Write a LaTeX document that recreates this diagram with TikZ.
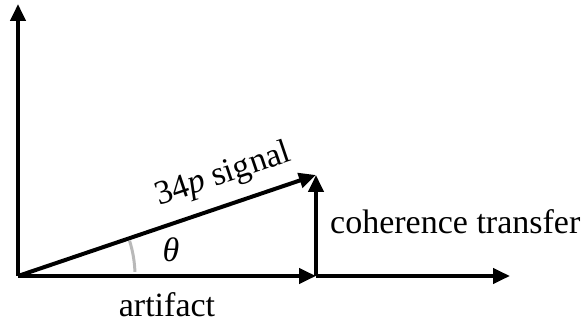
\documentclass[tikz,border=0pt]{standalone}
\usepackage{fontspec}
\setmainfont{Liberation Serif}
\usetikzlibrary{arrows.meta}

\begin{document}
\begin{tikzpicture}[x=1pt,y=1pt,
  vec/.style={-{Triangle[length=17pt,width=15pt]},line width=4pt,black},
  lbl/.style={font=\fontsize{34}{40}\selectfont,inner sep=2pt}]
  \useasboundingbox (0,0) rectangle (584,326);
  % points
  \coordinate (o) at (18,50);
  \coordinate (top) at (18,322);
  \coordinate (art) at (316,50);
  \coordinate (coh) at (316,151);
  \coordinate (far) at (510,50);
  % angle arc
  \draw[gray!55,line width=3pt] ([shift={(2:117)}]o) arc[start angle=2,end angle=17.5,radius=117];
  % vectors
  \draw[vec] (o) -- (top);
  \draw[vec] (o) -- (art) node[lbl,midway,below=13pt] {artifact};
  \draw[vec] (art) -- (far);
  \draw[vec] (art) -- (coh);
  \draw[vec] (o) -- (coh) node[lbl,pos=0.72,sloped,above=10pt] {34\textit{p} signal};
  \node[lbl,right=12pt] (ct) at (316,104) {coherence transfer};
  \node[lbl] (th) at (171,76) {\textit{θ}};
\end{tikzpicture}
\end{document}
